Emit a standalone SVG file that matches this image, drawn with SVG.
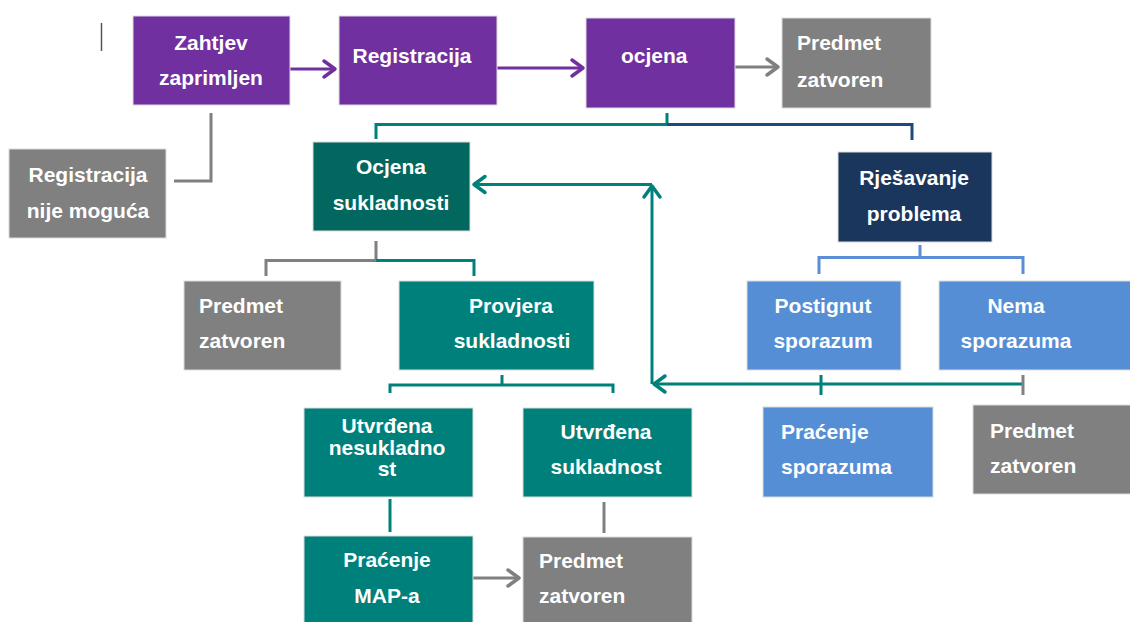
<svg xmlns="http://www.w3.org/2000/svg" width="1130" height="622" viewBox="0 0 1130 622">
<defs>
<style>
.n{stroke:#dcdcdc;stroke-width:1}
.pu{fill:#7030A0}.gr{fill:#808080}.dt{fill:#02675F}.tl{fill:#00807A}.nv{fill:#1B365D}.bl{fill:#558ED5}
.t{font-family:"Liberation Sans",Arial,sans-serif;font-weight:bold;font-size:21px;fill:#ffffff}
.c{text-anchor:middle}
.ln{fill:none;stroke-width:3}
.lp{stroke:#7030A0}.lg{stroke:#808080}.lt{stroke:#00807A}.lb{stroke:#5B8ED6}.ln2{stroke:#1F497D}
</style>
<marker id="ap" markerUnits="userSpaceOnUse" markerWidth="30" markerHeight="30" refX="0" refY="0" viewBox="-15 -15 30 30" orient="auto" overflow="visible"><path d="M-11,-8 L0,0 L-11,8" fill="none" stroke="#7030A0" stroke-width="3.5" stroke-linecap="round" stroke-linejoin="round"/></marker>
<marker id="ag" markerUnits="userSpaceOnUse" markerWidth="30" markerHeight="30" refX="0" refY="0" viewBox="-15 -15 30 30" orient="auto" overflow="visible"><path d="M-11,-8 L0,0 L-11,8" fill="none" stroke="#808080" stroke-width="3.5" stroke-linecap="round" stroke-linejoin="round"/></marker>
<marker id="at" markerUnits="userSpaceOnUse" markerWidth="30" markerHeight="30" refX="0" refY="0" viewBox="-15 -15 30 30" orient="auto" overflow="visible"><path d="M-11,-8 L0,0 L-11,8" fill="none" stroke="#00807A" stroke-width="3.5" stroke-linecap="round" stroke-linejoin="round"/></marker>
</defs>
<rect width="1130" height="622" fill="#ffffff"/>
<line x1="101.5" y1="23" x2="101.5" y2="51" stroke="#555" stroke-width="1.5"/>

<g id="connectors">
<line class="ln lp" x1="290" y1="69" x2="335" y2="69" marker-end="url(#ap)"/>
<line class="ln lp" x1="497" y1="68" x2="583" y2="68" marker-end="url(#ap)"/>
<line class="ln lg" x1="735" y1="67" x2="778" y2="67" marker-end="url(#ag)"/>
<polyline class="ln lg" points="211,113 211,181 174,181"/>
<polyline class="ln lt" points="376,139 376,124.5 667,124.5 667,113"/>
<polyline class="ln ln2" points="667,124.5 912,124.5 912,140"/>
<polyline class="ln lg" points="376,241 376,260.5 266,260.5 266,276"/>
<polyline class="ln lt" points="376,260.5 474,260.5 474,276"/>
<polyline class="ln lb" points="920,245 920,257.5 819,257.5 819,274"/>
<polyline class="ln lb" points="920,257.5 1023,257.5 1023,274"/>
<polyline class="ln lt" points="502,375 502,385"/>
<polyline class="ln lt" points="390,393 390,385 613,385 613,393"/>
<line class="ln lt" x1="390" y1="499" x2="390" y2="532"/>
<line class="ln lg" x1="604" y1="502" x2="604" y2="533"/>
<line class="ln lg" x1="473" y1="578" x2="519" y2="578" marker-end="url(#ag)"/>
<line class="ln lt" x1="1023" y1="384" x2="654" y2="384" marker-end="url(#at)"/>
<line class="ln lt" x1="821" y1="375" x2="821" y2="395"/>
<line class="ln lg" x1="1023" y1="375" x2="1023" y2="395"/>
<line class="ln lt" x1="652" y1="384" x2="652" y2="186" marker-end="url(#at)"/>
<line class="ln lt" x1="652" y1="184.5" x2="474" y2="184.5" marker-end="url(#at)"/>
</g>

<g id="zahtjev"><rect class="n pu" x="133" y="16" width="157" height="89"/>
<text class="t c" x="211" y="50">Zahtjev</text><text class="t c" x="211" y="85">zaprimljen</text></g>
<g id="registracija"><rect class="n pu" x="339" y="16" width="158" height="89"/>
<text class="t c" x="412" y="63">Registracija</text></g>
<g id="ocjena"><rect class="n pu" x="586" y="18" width="149" height="90"/>
<text class="t" x="621" y="63">ocjena</text></g>
<g id="zatvoren1"><rect class="n gr" x="782" y="18" width="149" height="90"/>
<text class="t" x="797" y="50">Predmet</text><text class="t" x="797" y="87">zatvoren</text></g>
<g id="nije-moguca"><rect class="n gr" x="9" y="149" width="157" height="89"/>
<text class="t c" x="88" y="182">Registracija</text><text class="t c" x="88" y="218">nije moguća</text></g>
<g id="ocjena-sukladnosti"><rect class="n dt" x="313" y="142" width="157" height="89"/>
<text class="t c" x="391" y="174">Ocjena</text><text class="t c" x="391" y="210">sukladnosti</text></g>
<g id="rjesavanje"><rect class="n nv" x="838" y="152" width="154" height="90"/>
<text class="t c" x="914" y="185">Rješavanje</text><text class="t c" x="914" y="221">problema</text></g>
<g id="zatvoren2"><rect class="n gr" x="184" y="281" width="157" height="89"/>
<text class="t" x="199" y="313">Predmet</text><text class="t" x="199" y="348">zatvoren</text></g>
<g id="provjera"><rect class="n tl" x="399" y="281" width="195" height="89"/>
<text class="t c" x="511" y="313">Provjera</text><text class="t c" x="512" y="348">sukladnosti</text></g>
<g id="postignut"><rect class="n bl" x="747" y="281" width="154" height="89"/>
<text class="t c" x="823" y="313">Postignut</text><text class="t c" x="823" y="348">sporazum</text></g>
<g id="nema"><rect class="n bl" x="939" y="281" width="195" height="89"/>
<text class="t c" x="1016" y="313">Nema</text><text class="t c" x="1016" y="348">sporazuma</text></g>
<g id="nesukladnost"><rect class="n tl" x="304" y="408" width="169" height="89"/>
<text class="t c" x="387" y="433">Utvrđena</text><text class="t c" x="387" y="455">nesukladno</text><text class="t c" x="387" y="476">st</text></g>
<g id="sukladnost"><rect class="n tl" x="523" y="408" width="169" height="89"/>
<text class="t c" x="606" y="439">Utvrđena</text><text class="t c" x="606" y="474">sukladnost</text></g>
<g id="pracenje-sporazuma"><rect class="n bl" x="763" y="407" width="170" height="90"/>
<text class="t" x="781" y="439">Praćenje</text><text class="t" x="781" y="474">sporazuma</text></g>
<g id="zatvoren3"><rect class="n gr" x="973" y="405" width="160" height="89"/>
<text class="t" x="990" y="438">Predmet</text><text class="t" x="990" y="473">zatvoren</text></g>
<g id="pracenje-map"><rect class="n tl" x="304" y="536" width="169" height="90"/>
<text class="t c" x="387" y="567">Praćenje</text><text class="t c" x="387" y="603">MAP-a</text></g>
<g id="zatvoren4"><rect class="n gr" x="523" y="537" width="169" height="90"/>
<text class="t" x="539" y="568">Predmet</text><text class="t" x="539" y="603">zatvoren</text></g>
</svg>
